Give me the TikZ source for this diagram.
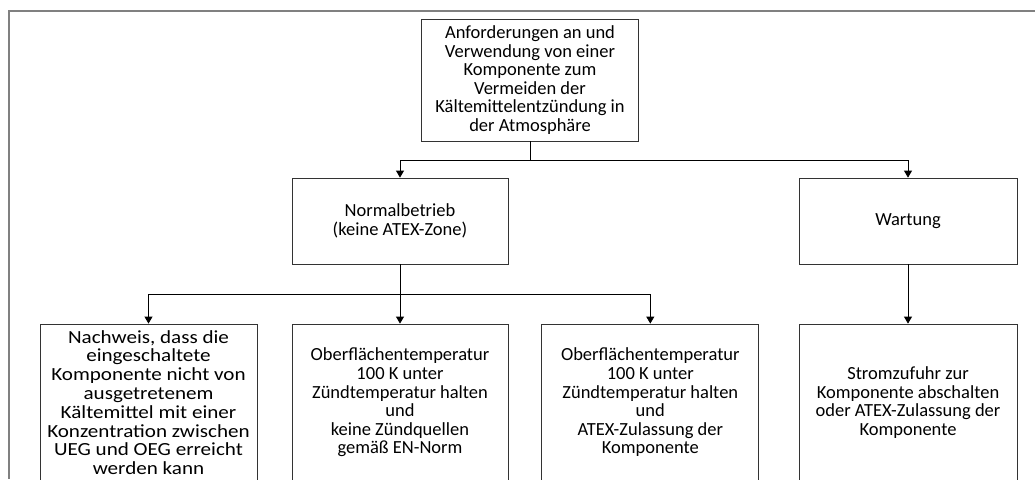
\documentclass[tikz,border=0pt]{standalone}
\usepackage{fontspec}
\setmainfont{Carlito}
\newfontfamily\widefont[FakeStretch=1.14]{Carlito}
\usetikzlibrary{arrows.meta}

\tikzset{
  box/.style={draw=black!80,line width=0.8pt,align=center,inner sep=0pt,
    font=\fontsize{18.5}{18.6}\selectfont},
  widebox/.style={box,font=\widefont\fontsize{18.5}{18.8}\selectfont},
  link/.style={draw=black,line width=0.8pt}
}

\begin{document}
\begin{tikzpicture}[x=1pt,y=-1pt,>={Triangle[length=7pt,width=8pt]}]
    \useasboundingbox (0,0) rectangle (1035,479);
    % frame
    \draw[black!50,line width=1.6pt] (1035,11) -- (9,11) -- (9,479);
    \node[box,minimum width=217pt,minimum height=122pt] (top) at (530,80)
      {Anforderungen an und\\Verwendung von einer\\Komponente zum\\Vermeiden der\\K\"altemittelentz\"undung in\\der Atmosph\"are};
    \node[box,minimum width=216pt,minimum height=86pt] (normal) at (400,221)
      {Normalbetrieb\\(keine ATEX-Zone)};
    \node[box,minimum width=218pt,minimum height=86pt] (wartung) at (908,221)
      {Wartung};
    \node[widebox,minimum width=217pt,minimum height=157pt] (nachweis) at (148.5,402.5)
      {Nachweis, dass die\\eingeschaltete\\Komponente nicht von\\ausgetretenem\\K\"altemittel mit einer\\Konzentration zwischen\\UEG und OEG erreicht\\werden kann};
    \node[box,minimum width=216pt,minimum height=157pt] (tempen) at (400,402.5)
      {Oberfl\"achentemperatur\\100 K unter\\Z\"undtemperatur halten\\und\\keine Z\"undquellen\\gem\"a\ss{} EN-Norm};
    \node[box,minimum width=217pt,minimum height=157pt] (tempatex) at (650.3,402.5)
      {Oberfl\"achentemperatur\\100 K unter\\Z\"undtemperatur halten\\und\\ATEX-Zulassung der\\Komponente};
    \node[box,minimum width=218pt,minimum height=157pt] (strom) at (908,402.5)
      {Stromzufuhr zur\\Komponente abschalten\\oder ATEX-Zulassung der\\Komponente};
    \coordinate (split1) at (530,160);
    \coordinate (split2) at (400,294);
    \draw[link] (top.south) -- (split1);
    \draw[link] (normal.south) -- (split2);
    \draw[link,->] (split1) -| (normal.north);
    \draw[link,->] (split1) -| (wartung.north);
    \draw[link,->] (split2) -| (nachweis.north);
    \draw[link,->] (split2) -- (tempen.north);
    \draw[link,->] (split2) -| (tempatex.north);
    \draw[link,->] (wartung.south) -- (strom.north);
\end{tikzpicture}
\end{document}
